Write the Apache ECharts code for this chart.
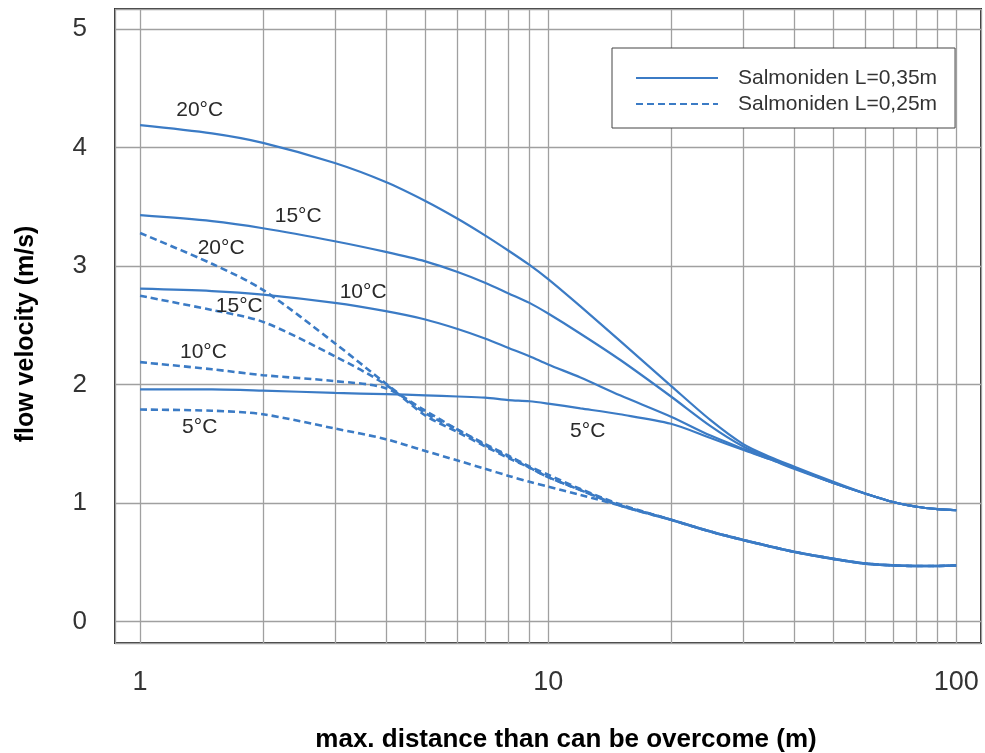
<!DOCTYPE html>
<html>
<head>
<meta charset="utf-8">
<script src="https://cdn.jsdelivr.net/npm/echarts@6/dist/echarts.min.js"></script>
<style>html,body{margin:0;padding:0;background:#fff}#c{width:985px;height:753px}</style>
</head>
<body>
<div id="c"></div>
<script>
// ---- data ----
const distances = [1, 1.5, 2, 3, 4, 5, 6, 7, 8, 9, 10, 12, 15, 20, 25, 30, 35, 40, 50, 60, 70, 80, 90, 100];

// Salmoniden L=0,35m (solid)
const solid20 = [4.19, 4.12, 4.04, 3.87, 3.71, 3.55, 3.40, 3.26, 3.13, 3.01, 2.89, 2.66, 2.37, 1.99, 1.70, 1.50, 1.39, 1.31, 1.18, 1.08, 1.01, 0.97, 0.95, 0.94];
const solid15 = [3.43, 3.38, 3.32, 3.21, 3.12, 3.04, 2.95, 2.86, 2.77, 2.69, 2.60, 2.43, 2.21, 1.90, 1.65, 1.48, 1.38, 1.30, 1.17, 1.08, 1.01, 0.97, 0.95, 0.94];
const solid10 = [2.81, 2.79, 2.76, 2.69, 2.62, 2.55, 2.47, 2.39, 2.31, 2.24, 2.17, 2.06, 1.91, 1.73, 1.57, 1.46, 1.37, 1.30, 1.17, 1.08, 1.01, 0.97, 0.95, 0.94];
const solid5  = [1.96, 1.96, 1.95, 1.93, 1.92, 1.91, 1.90, 1.89, 1.87, 1.86, 1.84, 1.80, 1.75, 1.67, 1.55, 1.45, 1.37, 1.29, 1.17, 1.08, 1.01, 0.97, 0.95, 0.94];

// Salmoniden L=0,25m (dashed)
const dashed20 = [3.28, 3.02, 2.80, 2.35, 2.01, 1.76, 1.62, 1.50, 1.40, 1.31, 1.24, 1.12, 0.99, 0.86, 0.76, 0.69, 0.635, 0.59, 0.53, 0.49, 0.475, 0.47, 0.47, 0.475];
const dashed15 = [2.75, 2.63, 2.53, 2.24, 2.00, 1.74, 1.60, 1.48, 1.38, 1.30, 1.22, 1.11, 0.98, 0.86, 0.76, 0.69, 0.635, 0.59, 0.53, 0.49, 0.475, 0.47, 0.47, 0.475];
const dashed10 = [2.19, 2.13, 2.08, 2.03, 1.97, 1.78, 1.62, 1.49, 1.39, 1.30, 1.22, 1.11, 0.98, 0.86, 0.76, 0.69, 0.635, 0.59, 0.53, 0.49, 0.475, 0.47, 0.47, 0.475];
const dashed5  = [1.79, 1.78, 1.75, 1.63, 1.54, 1.44, 1.36, 1.29, 1.23, 1.18, 1.14, 1.07, 0.98, 0.86, 0.76, 0.69, 0.635, 0.59, 0.53, 0.49, 0.475, 0.47, 0.47, 0.475];

const legendNames = ['Salmoniden L=0,35m', 'Salmoniden L=0,25m'];
const tempNames = ['20°C', '15°C', '10°C', '5°C'];
// label anchor points in data space [distance, velocity]
const solidLabelAt  = [[1.40, 4.32], [2.44, 3.42], [3.52, 2.78], [12.5, 1.61]];
const dashedLabelAt = [[1.58, 3.15], [1.75, 2.66], [1.43, 2.27], [1.40, 1.64]];

const xTickLabels = [1, 10, 100];
const yTickLabels = [0, 1, 2, 3, 4, 5];
const minorGridDistances = [2, 3, 4, 5, 6, 7, 8, 9, 20, 30, 40, 50, 60, 70, 80, 90];

// ---- chart ----
const FONT = '"Liberation Sans", Arial, Helvetica, sans-serif';
const BLUE = '#3b7bc5';
const GRIDC = '#a0a0a0';

function makeSeries(name, values, dashed, tempName, labelAt, withGrid) {
  const s = {
    type: 'line',
    name: name,
    data: distances.map((d, i) => [d, values[i]]),
    smooth: 0.3,
    symbol: 'none',
    showSymbol: false,
    z: 3,
    lineStyle: { color: BLUE, width: dashed ? 2.6 : 2.2, type: dashed ? [7, 4] : 'solid' },
    itemStyle: { color: BLUE },
    markPoint: {
      silent: true,
      animation: false,
      symbol: 'circle',
      symbolSize: 1,
      itemStyle: { color: 'rgba(0,0,0,0)' },
      label: { show: true, position: 'inside', formatter: tempName, fontSize: 21, color: '#2a2a2a', fontFamily: FONT },
      data: [{ coord: labelAt }]
    }
  };
  if (withGrid) {
    s.markLine = {
      silent: true,
      animation: false,
      z: 1,
      symbol: ['none', 'none'],
      label: { show: false },
      lineStyle: { color: GRIDC, width: 1.3, type: 'solid' },
      data: minorGridDistances.map(d => ({ xAxis: d }))
    };
  }
  return s;
}

const series = [];
[solid20, solid15, solid10, solid5].forEach((v, i) =>
  series.push(makeSeries(legendNames[0], v, false, tempNames[i], solidLabelAt[i], i === 0)));
[dashed20, dashed15, dashed10, dashed5].forEach((v, i) =>
  series.push(makeSeries(legendNames[1], v, true, tempNames[i], dashedLabelAt[i], false)));

const chart = echarts.init(document.getElementById('c'), null, { renderer: 'canvas' });
chart.setOption({
  animation: false,
  backgroundColor: '#ffffff',
  textStyle: { fontFamily: FONT },
  grid: {
    left: 115, right: 4, top: 9, bottom: 110,
    containLabel: false,
    outerBoundsMode: 'none',
    show: true,
    borderColor: '#333',
    borderWidth: 2,
    backgroundColor: 'transparent'
  },
  legend: {
    data: legendNames,
    orient: 'vertical',
    left: 612,
    top: 48,
    itemWidth: 82,
    itemHeight: 14,
    itemGap: 4,
    padding: [19, 18, 13, 23],
    borderColor: '#444',
    borderWidth: 1,
    borderRadius: 0,
    backgroundColor: '#fff',
    selectedMode: false,
    itemStyle: { opacity: 0 },
    textStyle: { fontSize: 21, color: '#333', fontFamily: FONT, padding: [0, 0, 0, 15], lineHeight: 22 }
  },
  xAxis: {
    type: 'log',
    logBase: 10,
    min: 0.868,
    max: 115,
    axisLine: { show: false },
    axisTick: { show: false },
    splitLine: { show: true, lineStyle: { color: GRIDC, width: 1.3 } },
    axisLabel: {
      fontSize: 27, color: '#333', margin: 26, fontFamily: FONT,
      formatter: function (v) {
        const l = Math.log10(v);
        if (Math.abs(l - Math.round(l)) < 1e-6) {
          const r = Math.round(v);
          return xTickLabels.indexOf(r) >= 0 ? String(r) : '';
        }
        return '';
      }
    },
    name: 'max. distance than can be overcome (m)',
    nameLocation: 'middle',
    nameGap: 84,
    nameTextStyle: { fontSize: 26, fontWeight: 'bold', color: '#000', fontFamily: FONT, padding: [0, 0, 0, 36] }
  },
  yAxis: {
    type: 'value',
    min: -0.18,
    max: 5.17,
    splitNumber: 5,
    axisLine: { show: false },
    axisTick: { show: false },
    splitLine: { show: true, lineStyle: { color: GRIDC, width: 1.3 } },
    axisLabel: {
      fontSize: 26, color: '#333', margin: 28, fontFamily: FONT,
      formatter: function (v) {
        const r = Math.round(v);
        return (Math.abs(v - r) < 1e-6 && yTickLabels.indexOf(r) >= 0) ? String(r) : '';
      }
    },
    name: 'flow velocity (m/s)',
    nameLocation: 'middle',
    nameGap: 76,
    nameRotate: 90,
    nameTextStyle: { fontSize: 25, fontWeight: 'bold', color: '#000', fontFamily: FONT, padding: [0, 16, 0, 0] }
  },
  series: series
});
</script>
</body>
</html>
